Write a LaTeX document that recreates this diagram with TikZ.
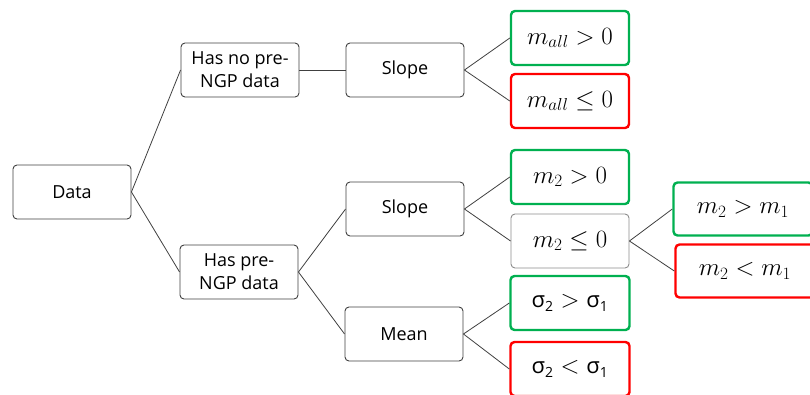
\documentclass[tikz,border=0pt]{standalone}
\usepackage{fontspec}
\setmainfont{Open Sans}
\begin{document}
\begin{tikzpicture}[x=1pt,y=-1pt,
  box/.style={draw=black!75, line width=0.9pt, rounded corners=4pt, fill=white,
    minimum width=118pt, minimum height=54pt, inner sep=0pt, align=center,
    font=\fontsize{18}{23}\selectfont},
  good/.style={box, draw={rgb,255:red,0;green,176;blue,80}, line width=2.4pt,
    font=\fontsize{24}{28}\selectfont},
  bad/.style={box, draw={rgb,255:red,255;green,0;blue,0}, line width=2.4pt,
    font=\fontsize{24}{28}\selectfont},
  plain/.style={box, draw=black!45, font=\fontsize{24}{28}\selectfont},
  link/.style={draw=black!75, line width=0.8pt}]
\useasboundingbox (0,0) rectangle (810,394);
\clip (0,0) rectangle (810,394);
\newcommand{\sig}{\mbox{\fontsize{22}{26}\selectfont σ}}
\newcommand{\sub}[1]{\mbox{\fontsize{14}{16}\selectfont #1}}
% first level
\node[box] (data) at (72,192) {Data};
\node[box] (nopre) at (240,70) {Has no pre-\\NGP data};
\node[box] (pre) at (239,272) {Has pre-\\NGP data};
% tests
\node[box] (slopeA) at (405,70) {Slope};
\node[box] (slopeB) at (405,209) {Slope};
\node[box] (mean) at (404,334) {Mean};
% outcomes
\node[good] (allpos) at (570,38) {$m_{all} > 0$};
\node[bad] (allneg) at (570,101) {$m_{all} \leq 0$};
\node[good] (mpos) at (570,177) {$m_2 > 0$};
\node[plain] (mneg) at (570,241) {$m_2 \leq 0$};
\node[good, minimum width=139pt, minimum height=53pt] (mup) at (743,209) {$m_2 > m_1$};
\node[bad, minimum width=139pt, minimum height=53pt] (mdown) at (745,271) {$m_2 < m_1$};
\node[good, minimum width=119pt] (sup) at (570,303) {$\sig_{\sub{2}} > \sig_{\sub{1}}$};
\node[bad, minimum width=119pt] (sdown) at (570,369) {$\sig_{\sub{2}} < \sig_{\sub{1}}$};
% connectors
\draw[link] (data.east) -- (nopre.west);
\draw[link] (data.east) -- (pre.west);
\draw[link] (nopre.east) -- (slopeA.west);
\draw[link] (pre.east) -- (slopeB.west);
\draw[link] (pre.east) -- (mean.west);
\draw[link] (slopeA.east) -- (allpos.west);
\draw[link] (slopeA.east) -- (allneg.west);
\draw[link] (slopeB.east) -- (mpos.west);
\draw[link] (slopeB.east) -- (mneg.west);
\draw[link] (mneg.east) -- (mup.west);
\draw[link] (mneg.east) -- (mdown.west);
\draw[link] (mean.east) -- (sup.west);
\draw[link] (mean.east) -- (sdown.west);
\end{tikzpicture}
\end{document}
